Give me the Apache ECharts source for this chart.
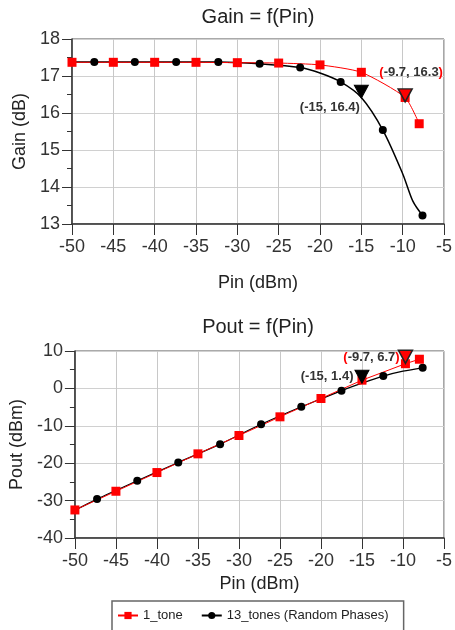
<!DOCTYPE html>
<html><head><meta charset="utf-8">
<script src="https://cdn.jsdelivr.net/npm/echarts@6/dist/echarts.min.js"></script>
<style>html,body{margin:0;padding:0;background:#fff}#c{width:455px;height:630px}</style>
</head><body><div id="c"></div>
<script>
// ---- data ----
const name1Tone = '1_tone';
const name13Tones = '13_tones (Random Phases)';

const pin1Tone  = [-50, -45, -40, -35, -30, -25, -20, -15, -9.7, -8];
const gain1Tone = [17.37, 17.37, 17.37, 17.37, 17.36, 17.35, 17.30, 17.10, 16.42, 15.71];
const pout1Tone = [-32.5, -27.5, -22.5, -17.5, -12.6, -7.6, -2.7, 2.2, 6.6, 7.8];

// 13-tone simulated curve (gain)
const pin13Gain = [-50, -47.3, -42.4, -37.4, -32.3, -27.3, -22.4, -20, -17.5, -15, -12.4, -10, -8.75, -7.6];
const gain13    = [17.38, 17.38, 17.38, 17.38, 17.38, 17.33, 17.23, 17.08, 16.84, 16.42, 15.54, 14.36, 13.61, 13.23];
// 13-tone simulated curve (output power)
const pin13Pout = [-50, -47.3, -42.4, -37.4, -32.3, -27.3, -22.4, -20, -17.5, -15, -12.4, -10, -7.6];
const pout13    = [-32.6, -29.6, -24.7, -19.8, -14.9, -9.6, -4.9, -2.8, -0.6, 1.4, 3.3, 4.6, 5.5];
// Pin values that carry a circle marker on the 13-tone curve
const pin13Markers = [-47.3, -42.4, -37.4, -32.3, -27.3, -22.4, -17.5, -12.4, -7.6];

// marker readouts
const markPin  = [-15, -9.7];
const markGain = [16.4, 16.3];
const markPout = [1.4, 6.7];

// axes
const pinMin = -50, pinMax = -5, pinStep = 5;
const gainMin = 13, gainMax = 18, gainStep = 1;
const poutMin = -40, poutMax = 10, poutStep = 10;

// ---- chart ----
const FONT = 'Liberation Sans, Arial, sans-serif';
const zip = (xs, ys) => xs.map((x, i) => [x, ys[i]]);
const curve13 = (xs, ys) => xs.map((x, i) => ({
  value: [x, ys[i]],
  symbol: pin13Markers.includes(x) ? 'circle' : 'none'
}));

function xAxis(gridIndex, gap) {
  return {
    type: 'value', gridIndex, min: pinMin, max: pinMax, interval: pinStep,
    name: 'Pin (dBm)', nameLocation: 'middle', nameGap: gap,
    nameTextStyle: { fontSize: 18, color: '#222', fontFamily: FONT },
    axisLine: { show: true, onZero: false, lineStyle: { color: '#333', width: 1.5 } },
    axisTick: { show: true, inside: false, length: 11, lineStyle: { color: '#333', width: 1 } },
    axisLabel: { fontSize: 18, color: '#333', margin: 14, fontFamily: FONT },
    splitLine: { show: true, lineStyle: { color: '#c8c8c8', width: 1 } }
  };
}
function yAxis(gridIndex, min, max, step, name, gap) {
  return {
    type: 'value', gridIndex, min, max, interval: step,
    name, nameLocation: 'middle', nameGap: gap,
    nameTextStyle: { fontSize: 18, color: '#222', fontFamily: FONT },
    axisLine: { show: true, onZero: false, lineStyle: { color: '#333', width: 1.5 } },
    axisTick: { show: true, inside: false, length: 10, lineStyle: { color: '#333', width: 1 } },
    minorTick: { show: true, splitNumber: 2, length: 5, lineStyle: { color: '#333', width: 1 } },
    axisLabel: { fontSize: 18, color: '#333', margin: 12, fontFamily: FONT },
    splitLine: { show: true, lineStyle: { color: '#d0d0d0', width: 1 } }
  };
}

const rich = {
  t: { fontSize: 13, fontWeight: 'bold', color: '#333', fontFamily: FONT },
  p: { fontSize: 13, fontWeight: 'bold', color: '#ff0000', fontFamily: FONT }
};
const TRI = 'path://M0,0L14,0L7,13Z';
function markerSeries(xi, yi, vals, labelCfg) {
  return {
    type: 'scatter', xAxisIndex: xi, yAxisIndex: yi, symbol: TRI,
    symbolSize: [14, 13], symbolOffset: [0, -6.5], z: 10,
    data: markPin.map((x, i) => ({
      value: [x, vals[i]],
      itemStyle: i === 0 ? { color: '#000', borderColor: '#000', borderWidth: 1, opacity: 1 }
                         : { color: '#ff0000', borderColor: '#222', borderWidth: 1.5, opacity: 1 },
      label: Object.assign({
        show: true, rich, opacity: 1,
        formatter: i === 0 ? '{t|(' + x + ', ' + vals[i] + ')}'
                           : '{p|(}{t|' + x + ', ' + vals[i] + '}{p|)}'
      }, labelCfg[i])
    }))
  };
}

const chart = echarts.init(document.getElementById('c'), null, { renderer: 'canvas' });
chart.setOption({
  animation: false,
  backgroundColor: '#fff',
  textStyle: { fontFamily: FONT },
  title: [
    { text: 'Gain = f(Pin)', left: 258, top: 7, textAlign: 'center', padding: 0,
      textStyle: { fontSize: 20, fontWeight: 'normal', color: '#222', fontFamily: FONT } },
    { text: 'Pout = f(Pin)', left: 258, top: 317, textAlign: 'center', padding: 0,
      textStyle: { fontSize: 20, fontWeight: 'normal', color: '#222', fontFamily: FONT } }
  ],
  legend: {
    left: 112, top: 601, orient: 'horizontal',
    padding: [8, 15, 30, 5], itemGap: 18, itemWidth: 20, itemHeight: 9,
    borderColor: '#666', borderWidth: 1.5,
    textStyle: { fontSize: 13, color: '#222', fontFamily: FONT },
    data: [name1Tone, name13Tones]
  },
  grid: [
    { left: 72, top: 39, width: 372, height: 185, show: true, borderColor: '#555', borderWidth: 1 },
    { left: 72, top: 351, width: 375, height: 187, show: true, borderColor: '#555', borderWidth: 1 }
  ],
  xAxis: [xAxis(0, 50), xAxis(1, 37)],
  yAxis: [
    yAxis(0, gainMin, gainMax, gainStep, 'Gain (dB)', 43),
    yAxis(1, poutMin, poutMax, poutStep, 'Pout (dBm)', 48)
  ],
  series: [
    { name: name13Tones, type: 'line', xAxisIndex: 0, yAxisIndex: 0, smooth: 0.3,
      symbol: 'circle', symbolSize: 8, itemStyle: { color: '#000' }, lineStyle: { color: '#000', width: 1.5 },
      data: curve13(pin13Gain, gain13) },
    { name: name1Tone, type: 'line', xAxisIndex: 0, yAxisIndex: 0, smooth: 0.2,
      symbol: 'rect', symbolSize: 9, itemStyle: { color: '#ff0000' }, lineStyle: { color: '#ff0000', width: 1 },
      data: zip(pin1Tone, gain1Tone) },
    { name: name13Tones, type: 'line', xAxisIndex: 1, yAxisIndex: 1, smooth: 0.3,
      symbol: 'circle', symbolSize: 8, itemStyle: { color: '#000' }, lineStyle: { color: '#000', width: 1.2 },
      data: curve13(pin13Pout, pout13) },
    { name: name1Tone, type: 'line', xAxisIndex: 1, yAxisIndex: 1,
      symbol: 'rect', symbolSize: 9, itemStyle: { color: '#ff0000' }, lineStyle: { color: '#ff0000', width: 1 },
      data: zip(pin1Tone, pout1Tone) },
    markerSeries(0, 0, markGain, [
      { position: 'left', distance: 0, offset: [6, 16] },
      { position: 'top', distance: 9, offset: [6, 0] }
    ]),
    markerSeries(1, 1, markPout, [
      { position: 'left', distance: 1, offset: [0, 0] },
      { position: 'left', distance: 1, offset: [3, 1] }
    ])
  ]
});
</script>
</body></html>
